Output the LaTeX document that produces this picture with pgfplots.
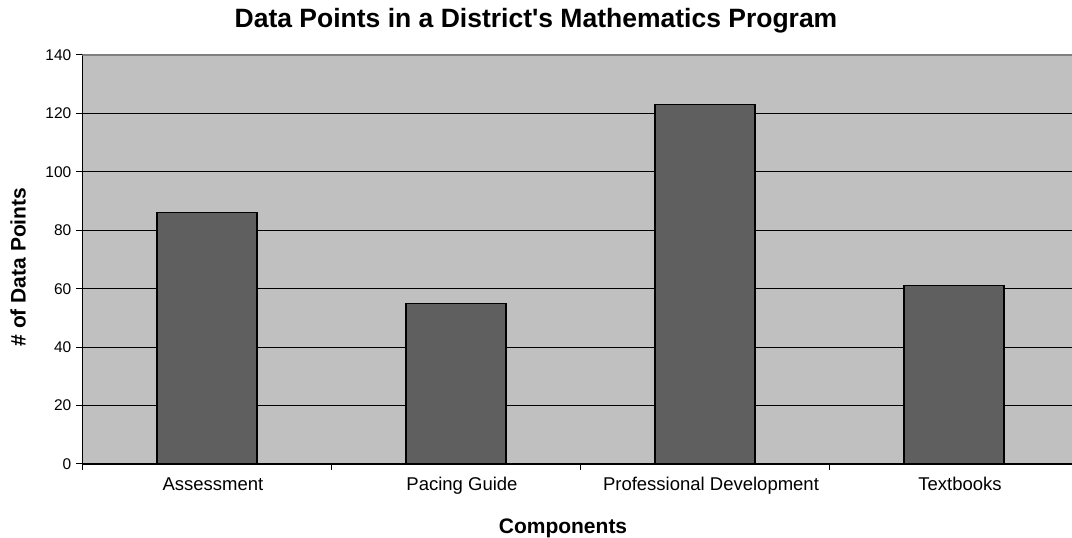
\documentclass[border=0pt]{standalone}
\usepackage{pgfplots}
\pgfplotsset{compat=1.18}
\usepackage{fontspec}
\setmainfont{Liberation Sans}
\definecolor{plotbg}{HTML}{C0C0C0}
\definecolor{barfill}{HTML}{5F5F5F}
\begin{document}
\begin{tikzpicture}
\path[use as bounding box] (-82pt,-74pt) rectangle (990pt,464pt);
\begin{axis}[
  at={(0.5pt,0pt)}, anchor=south west,
  scale only axis, width=996pt, height=409pt,
  xmin=-0.5, xmax=3.5, ymin=0, ymax=140,
  axis x line*=bottom, axis y line*=left,
  axis line style={black, line width=1pt},
  axis background/.style={fill=plotbg},
  ybar, bar width=100pt,
  xtick={0,1,2,3},
  xticklabels={Assessment,Pacing Guide,Professional Development,Textbooks},
  major x tick style={draw=none},
  minor xtick={-0.5,0.5,1.5,2.5,3.5},
  minor tick length=6pt,
  ytick={0,20,...,140},
  major tick length=6pt,
  tick align=outside,
  tick style={black, line width=1pt},
  ymajorgrids,
  grid style={black, line width=1.2pt},
  /pgf/number format/assume math mode=true,
  xticklabel style={font=\fontsize{18.5}{22}\selectfont, anchor=base, yshift=-21pt, xshift=6pt},
  yticklabel style={font=\fontsize{15.5}{18}\selectfont, anchor=east, inner sep=0pt, xshift=-5pt},
]
\addplot[fill=barfill, draw=black, line width=1.3pt] coordinates {(0,86) (1,55) (2,123) (3,61)};
\draw[gray, line width=1.5pt] (rel axis cs:0,1) -- (rel axis cs:1,1);
\end{axis}
\node[font=\fontsize{26.5}{31}\selectfont\bfseries] at (454pt,443pt) {Data Points in a District\textquotesingle s Mathematics Program};
\node[font=\fontsize{21}{25}\selectfont\bfseries, anchor=base] at (481pt,-70pt) {Components};
\node[font=\fontsize{21}{25}\selectfont\bfseries, rotate=90] at (-64pt,197pt) {\# of Data Points};
\end{tikzpicture}
\end{document}
